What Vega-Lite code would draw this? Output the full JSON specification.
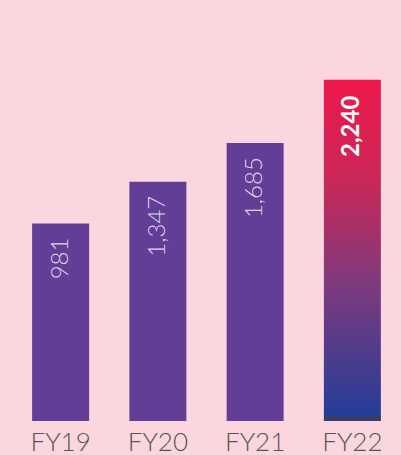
{
  "$schema": "https://vega.github.io/schema/vega-lite/v6.json",
  "width": 389,
  "height": 421,
  "autosize": "none",
  "padding": {"left": 12, "top": 0, "right": 0, "bottom": 34},
  "background": "#fcd6de",
  "config": {"view": {"stroke": null}, "font": "Lato"},
  "data": {"values": [
    {"year": "FY19", "value": 981},
    {"year": "FY20", "value": 1347},
    {"year": "FY21", "value": 1685},
    {"year": "FY22", "value": 2240}
  ]},
  "encoding": {
    "x": {"field": "year", "type": "nominal", "sort": null,
      "scale": {"paddingInner": 0.414, "paddingOuter": 0.207},
      "axis": {"title": null, "domain": false, "ticks": false, "labelAngle": 0,
        "labelFontSize": 26, "labelColor": "#555555", "labelPadding": 8, "labelFont": "Lato", "labelFontWeight": 300}},
    "y": {"field": "value", "type": "quantitative",
      "scale": {"domain": [-746, 2937], "zero": false, "nice": false},
      "axis": null}
  },
  "layer": [
    {
      "mark": {"type": "bar"},
      "encoding": {
        "y2": {"datum": -746},
        "color": {
          "condition": {"test": "datum.year === 'FY22'", "value": {
            "gradient": "linear", "x1": 0, "y1": 0, "x2": 0, "y2": 1,
            "stops": [
              {"offset": 0, "color": "#ee174b"},
              {"offset": 0.3, "color": "#c82858"},
              {"offset": 0.6, "color": "#7e3a7e"},
              {"offset": 0.985, "color": "#253d98"},
              {"offset": 0.988, "color": "#3a3b60"},
              {"offset": 1, "color": "#3a3b60"}
            ]}},
          "value": "#633e96"
        }
      }
    },
    {
      "transform": [{"filter": "datum.year !== 'FY22'"}],
      "mark": {"type": "text", "angle": -90, "align": "right", "baseline": "middle", "dx": -14, "fontSize": 24, "fontWeight": 300, "color": "#ddd3ee", "font": "Lato"},
      "encoding": {"text": {"field": "value", "type": "quantitative", "format": ","}}
    },
    {
      "transform": [{"filter": "datum.year === 'FY22'"}],
      "mark": {"type": "text", "angle": -90, "align": "right", "baseline": "middle", "dx": -16, "fontSize": 24, "fontWeight": "bold", "color": "#ffffff", "font": "Lato"},
      "encoding": {"text": {"field": "value", "type": "quantitative", "format": ","}}
    }
  ]
}
